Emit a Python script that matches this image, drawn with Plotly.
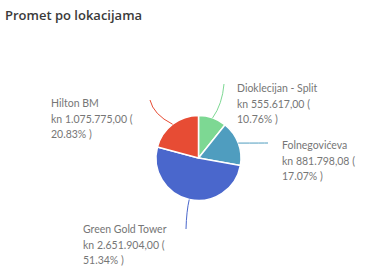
import math
import plotly.graph_objects as go

labels = ["Dioklecijan - Split", "Folnegovićeva", "Green Gold Tower", "Hilton BM"]
values = [555617.00, 881798.08, 2651904.00, 1075775.00]
value_text = ["555.617,00", "881.798,08", "2.651.904,00", "1.075.775,00"]
colors = ["#7dd893", "#4f9dbf", "#4a67cc", "#e74c34"]

W, H = 384, 274
cx, cy, r = 198.5, 158, 42.5  # pie centre/radius in pixels

# label text left x and first-line centre y (pixels)
label_pos = [(235, 88), (280, 145), (81, 229), (49, 103)]
line_end = [(224, 84), (268, 143), (186, 229), (150, 100)]
LINE_GAP = 15.5

fig = go.Figure(go.Pie(
    labels=labels, values=values, sort=False, direction="clockwise", rotation=0,
    marker=dict(colors=colors, line=dict(color="white", width=1.5)),
    textinfo="none", hoverinfo="label+value+percent", showlegend=False,
    domain=dict(x=[(cx - r) / W, (cx + r) / W], y=[(H - cy - r) / H, (H - cy + r) / H]),
))

def px(x, y):
    return x / W, (H - y) / H

total = sum(values)
cum = 0
for i, v in enumerate(values):
    mid = (cum + v / 2) / total * 2 * math.pi
    cum += v
    ex, ey = cx + r * math.sin(mid), cy - r * math.cos(mid)
    ox, oy = line_end[i]
    ctrlx, ctrly = ox + (ex - ox) * 0.15, oy + (ey - oy) * 0.6
    p0 = px(ox, oy); p1 = px(ctrlx, ctrly); p2 = px(ex, ey)
    fig.add_shape(type="path", xref="paper", yref="paper",
                  path=f"M {p0[0]},{p0[1]} Q {p1[0]},{p1[1]} {p2[0]},{p2[1]}",
                  line=dict(color=colors[i], width=1))
    pct = v / total * 100
    lines = [labels[i], f"kn {value_text[i]} (", f"{pct:.2f}% )"]
    lx, ly = label_pos[i]
    for j, t in enumerate(lines):
        fig.add_annotation(x=lx / W, y=(H - (ly + j * LINE_GAP)) / H, xref="paper", yref="paper",
                           xanchor="left", yanchor="middle", align="left", showarrow=False,
                           text=t, font=dict(family="Lato", size=10.5, color="#767676"))

fig.add_annotation(x=3 / W, y=(H - 15) / H, xref="paper", yref="paper",
                   xanchor="left", yanchor="middle", showarrow=False,
                   text="Promet po lokacijama",
                   font=dict(family="Open Sans", size=13, color="#3a3a3a", weight=600))

fig.update_layout(width=W, height=H, margin=dict(l=0, r=0, t=0, b=0),
                  paper_bgcolor="white", plot_bgcolor="white")
fig.write_html("out.html", config={"displayModeBar": False},
               post_script="document.body.style.margin='0';")
